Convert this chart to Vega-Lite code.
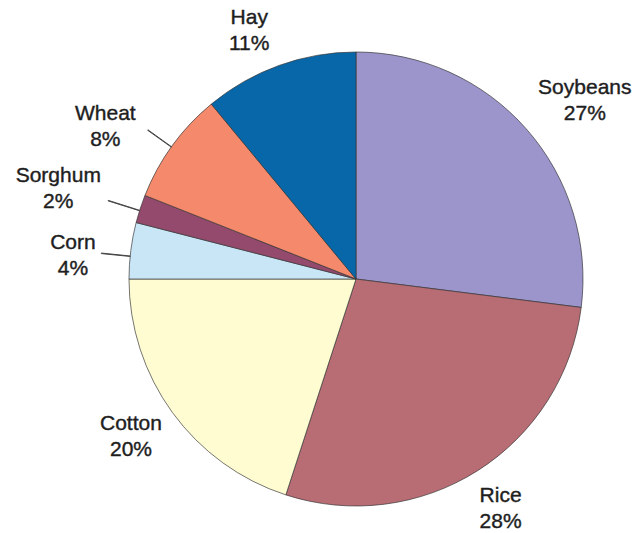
{
  "$schema": "https://vega.github.io/schema/vega-lite/v6.json",
  "description": "Crop share pie chart with outside labels.",
  "width": 570,
  "height": 498,
  "autosize": "none",
  "padding": {"left": 71, "top": 30, "right": 1, "bottom": 5},
  "data": {
    "values": [
      {"crop": "Soybeans", "share": 0.27, "idx": 1},
      {"crop": "Rice", "share": 0.28, "idx": 2},
      {"crop": "Cotton", "share": 0.20, "idx": 3},
      {"crop": "Corn", "share": 0.04, "idx": 4},
      {"crop": "Sorghum", "share": 0.02, "idx": 5},
      {"crop": "Wheat", "share": 0.08, "idx": 6},
      {"crop": "Hay", "share": 0.11, "idx": 7}
    ]
  },
  "layer": [
    {
      "mark": {"type": "arc", "radius": 227, "stroke": "#333333", "strokeWidth": 0.9, "strokeOpacity": 0.75},
      "encoding": {
        "theta": {"field": "share", "type": "quantitative", "stack": true},
        "order": {"field": "idx", "type": "quantitative"},
        "color": {
          "field": "crop",
          "type": "nominal",
          "legend": null,
          "scale": {
            "domain": ["Soybeans", "Rice", "Cotton", "Corn", "Sorghum", "Wheat", "Hay"],
            "range": ["#9b95cc", "#b86c74", "#fffcd2", "#c9e6f7", "#944a6c", "#f4896c", "#0867a8"]
          }
        }
      }
    },
    {
      "transform": [
        {"stack": "share", "groupby": [], "sort": [{"field": "idx"}], "as": ["s0", "s1"]},
        {"filter": "datum.crop === 'Wheat'"}
      ],
      "mark": {"type": "arc", "radius": 256, "radius2": 227, "thetaOffset": 0.243, "theta2Offset": 0.245, "fill": null, "stroke": "#444444", "strokeWidth": 1},
      "encoding": {
        "theta": {"field": "s0", "type": "quantitative"},
        "theta2": {"field": "s0"}
      }
    },
    {
      "transform": [
        {"stack": "share", "groupby": [], "sort": [{"field": "idx"}], "as": ["s0", "s1"]},
        {"filter": "datum.crop === 'Sorghum'"}
      ],
      "mark": {"type": "arc", "radius": 260, "radius2": 227, "thetaOffset": 0.054, "theta2Offset": 0.056, "fill": null, "stroke": "#444444", "strokeWidth": 1},
      "encoding": {
        "theta": {"field": "s0", "type": "quantitative"},
        "theta2": {"field": "s0"}
      }
    },
    {
      "transform": [
        {"stack": "share", "groupby": [], "sort": [{"field": "idx"}], "as": ["s0", "s1"]},
        {"filter": "datum.crop === 'Corn'"}
      ],
      "mark": {"type": "arc", "radius": 256, "radius2": 227, "thetaOffset": 0.0995, "theta2Offset": 0.1015, "fill": null, "stroke": "#444444", "strokeWidth": 1},
      "encoding": {
        "theta": {"field": "s0", "type": "quantitative"},
        "theta2": {"field": "s0"}
      }
    },
    {
      "mark": {
        "type": "text",
        "radius": {"expr": "datum.crop === 'Hay' ? 270 : datum.crop === 'Soybeans' ? 290 : datum.crop === 'Rice' ? 272 : datum.crop === 'Cotton' ? 275 : datum.crop === 'Corn' ? 284 : datum.crop === 'Sorghum' ? 311 : 293"},
        "thetaOffset": {"expr": "datum.crop === 'Hay' ? -0.061 : datum.crop === 'Soybeans' ? 0.061 : datum.crop === 'Rice' ? 0.005 : datum.crop === 'Cotton' ? 0.016 : datum.crop === 'Corn' ? -0.045 : datum.crop === 'Sorghum' ? -0.021 : -0.084"},
        "dy": -13,
        "font": "Liberation Sans",
        "fontSize": 21,
        "fill": "#1e1e1e",
        "stroke": "#1e1e1e",
        "strokeWidth": 0.4
      },
      "encoding": {
        "theta": {"field": "share", "type": "quantitative", "stack": true},
        "order": {"field": "idx", "type": "quantitative"},
        "text": {"field": "crop", "type": "nominal"}
      }
    },
    {
      "mark": {
        "type": "text",
        "radius": {"expr": "datum.crop === 'Hay' ? 270 : datum.crop === 'Soybeans' ? 290 : datum.crop === 'Rice' ? 272 : datum.crop === 'Cotton' ? 275 : datum.crop === 'Corn' ? 284 : datum.crop === 'Sorghum' ? 311 : 293"},
        "thetaOffset": {"expr": "datum.crop === 'Hay' ? -0.061 : datum.crop === 'Soybeans' ? 0.061 : datum.crop === 'Rice' ? 0.005 : datum.crop === 'Cotton' ? 0.016 : datum.crop === 'Corn' ? -0.045 : datum.crop === 'Sorghum' ? -0.021 : -0.084"},
        "dy": 13,
        "font": "Liberation Sans",
        "fontSize": 21,
        "fill": "#1e1e1e",
        "stroke": "#1e1e1e",
        "strokeWidth": 0.4
      },
      "encoding": {
        "theta": {"field": "share", "type": "quantitative", "stack": true},
        "order": {"field": "idx", "type": "quantitative"},
        "text": {"field": "share", "type": "quantitative", "format": ".0%"}
      }
    }
  ],
  "config": {"view": {"stroke": null}}
}
